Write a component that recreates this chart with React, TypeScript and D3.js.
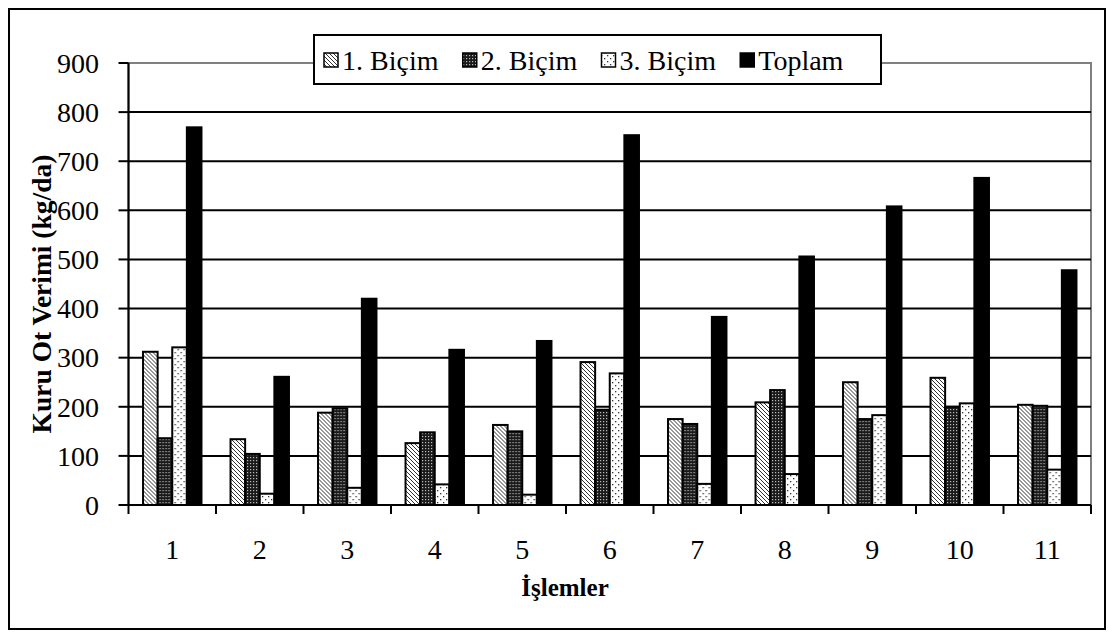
import React from "react";
import * as d3 from "d3";

const categories = ["1", "2", "3", "4", "5", "6", "7", "8", "9", "10", "11"];
const seriesNames = ["1. Biçim", "2. Biçim", "3. Biçim", "Toplam"];
const bicim1 = [312, 134, 188, 126, 163, 291, 175, 209, 250, 259, 204];
const bicim2 = [136, 104, 197, 148, 150, 194, 165, 234, 175, 200, 202];
const bicim3 = [321, 23, 35, 42, 21, 268, 43, 63, 183, 207, 72];
const toplam = [769, 261, 420, 316, 334, 753, 383, 506, 608, 666, 478];
const yTicks = [0, 100, 200, 300, 400, 500, 600, 700, 800, 900];

const seriesValues = [bicim1, bicim2, bicim3, toplam];
const fills = ["url(#hatch)", "url(#grid)", "url(#dots)", "#000"];

const W = 1108;
const H = 632;
const plot = { left: 128.5, right: 1091, top: 63, bottom: 505 };
const FONT = "'Liberation Serif', 'Times New Roman', serif";

export default function App() {
  const y = d3.scaleLinear().domain([0, 900]).range([plot.bottom, plot.top]);
  const x0 = d3.scaleBand<string>().domain(categories).range([plot.left, plot.right]).padding(0);
  const gw = x0.bandwidth();
  const x1 = d3
    .scaleBand<string>()
    .domain(seriesNames)
    .range([gw * 0.166, gw * 0.834])
    .padding(0);

  const boundaries = categories.map((c) => x0(c) as number).concat([plot.right]);

  // legend entries sit in equal-width columns
  const legend = d3.scaleBand<string>().domain(seriesNames).range([324, 879]).padding(0);

  return (
    <svg
      width={W}
      height={H}
      style={{ position: "absolute", left: 0, top: 0, display: "block", background: "#fff" }}
    >
      <defs>
        <pattern id="hatch" width="4" height="4" patternUnits="userSpaceOnUse">
          <rect width="4" height="4" fill="#fff" />
          <path d="M-1,-1 L5,5 M-1,3 L1,5 M3,-1 L5,1" stroke="#333" strokeWidth="1" />
        </pattern>
        <pattern id="grid" width="3" height="3" patternUnits="userSpaceOnUse">
          <rect width="3" height="3" fill="#1a1a1a" />
          <rect x="1" y="1" width="1.2" height="1.2" fill="#bbb" />
        </pattern>
        <pattern id="dots" width="6" height="6" patternUnits="userSpaceOnUse">
          <rect width="6" height="6" fill="#fff" />
          <rect x="1" y="1" width="1.3" height="1.3" fill="#333" />
          <rect x="4" y="4" width="1.3" height="1.3" fill="#333" />
        </pattern>
      </defs>

      {/* outer frame */}
      <rect x={9} y={9} width={1096} height={620} fill="none" stroke="#000" strokeWidth={2} />

      {/* plot area border */}
      <rect
        x={plot.left}
        y={plot.top}
        width={plot.right - plot.left}
        height={plot.bottom - plot.top}
        fill="none"
        stroke="#808080"
        strokeWidth={2}
      />

      {/* gridlines */}
      {yTicks
        .filter((t) => t > 0 && t < 900)
        .map((t) => (
          <line key={t} x1={plot.left} x2={plot.right} y1={y(t)} y2={y(t)} stroke="#000" strokeWidth={2} />
        ))}

      {/* bars */}
      {categories.map((c, i) => (
        <g key={c} transform={`translate(${x0(c)},0)`}>
          {seriesNames.map((s, k) => {
            const v = seriesValues[k][i];
            return (
              <rect
                key={s}
                x={x1(s)}
                y={y(v)}
                width={x1.bandwidth()}
                height={y(0) - y(v)}
                fill={fills[k]}
                stroke="#000"
                strokeWidth={2}
              />
            );
          })}
        </g>
      ))}

      {/* axes */}
      <line x1={plot.left} x2={plot.left} y1={plot.top} y2={plot.bottom} stroke="#000" strokeWidth={2} />
      <line x1={plot.left} x2={plot.right} y1={plot.bottom} y2={plot.bottom} stroke="#000" strokeWidth={2} />
      {yTicks.map((t) => (
        <g key={t}>
          <line x1={plot.left - 10} x2={plot.left} y1={y(t)} y2={y(t)} stroke="#000" strokeWidth={2} />
          <text
            x={99}
            y={y(t)}
            dy="0.35em"
            textAnchor="end"
            fontFamily={FONT}
            fontSize={28}
            fill="#000"
          >
            {t}
          </text>
        </g>
      ))}
      {boundaries.map((bx, i) => (
        <line key={i} x1={bx} x2={bx} y1={plot.bottom} y2={plot.bottom + 9} stroke="#000" strokeWidth={2} />
      ))}
      {categories.map((c) => (
        <text
          key={c}
          x={(x0(c) as number) + gw / 2}
          y={559}
          textAnchor="middle"
          fontFamily={FONT}
          fontSize={28}
          fill="#000"
        >
          {c}
        </text>
      ))}

      {/* axis titles */}
      <text x={565} y={596} textAnchor="middle" fontFamily={FONT} fontSize={25} fontWeight="bold" fill="#000">
        İşlemler
      </text>
      <text
        transform={`translate(51,294) rotate(-90)`}
        textAnchor="middle"
        fontFamily={FONT}
        fontSize={27.5}
        fontWeight="bold"
        fill="#000"
      >
        Kuru Ot Verimi (kg/da)
      </text>

      {/* legend */}
      <rect x={314} y={35} width={567} height={49} fill="#fff" stroke="#000" strokeWidth={2} />
      {seriesNames.map((s, k) => {
        const lx = legend(s) as number;
        return (
          <g key={s}>
            <rect x={lx} y={53} width={14} height={14} fill={fills[k]} stroke="#000" strokeWidth={1.5} />
            <text x={lx + 18} y={70} fontFamily={FONT} fontSize={28} fill="#000">
              {s}
            </text>
          </g>
        );
      })}
    </svg>
  );
}
